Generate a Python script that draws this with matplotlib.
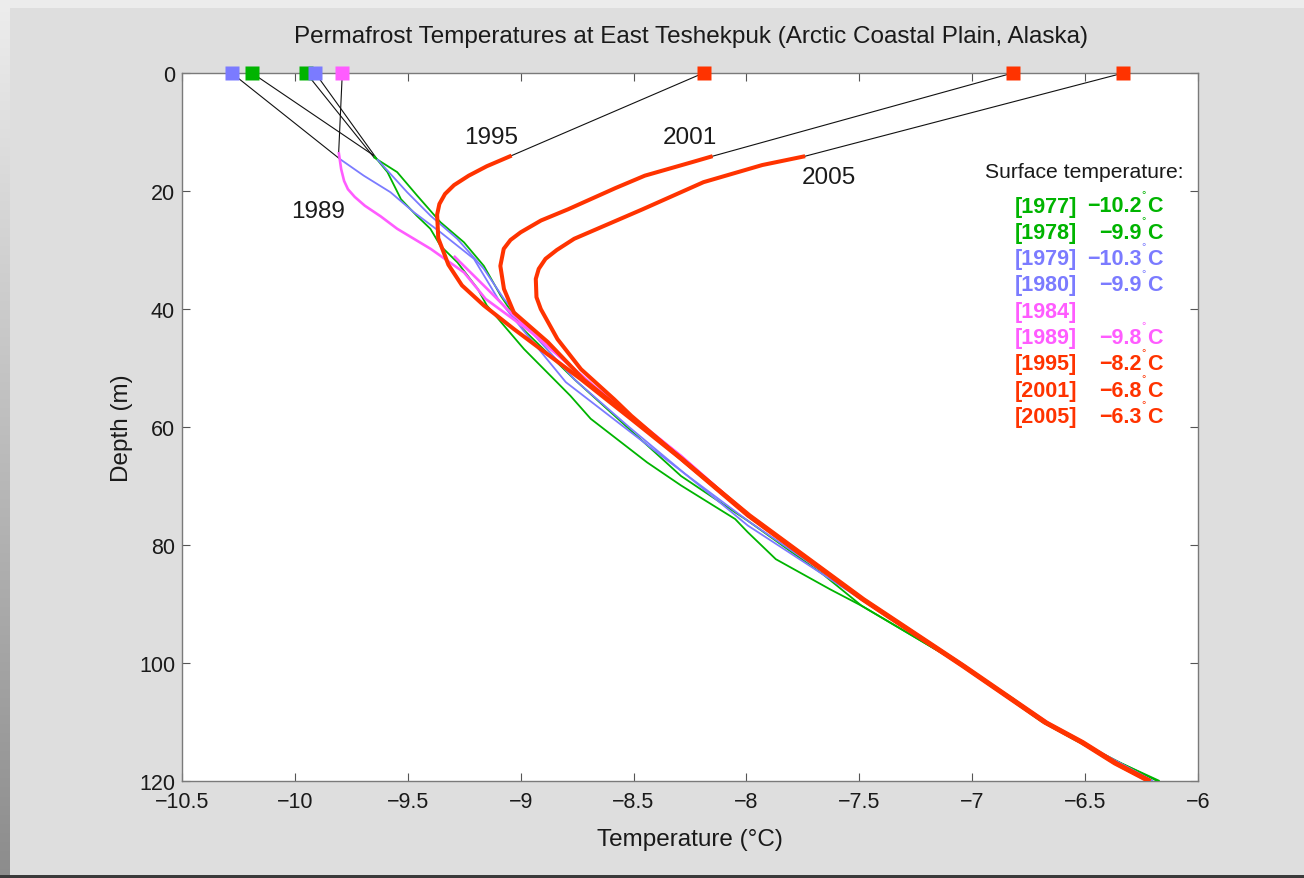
import matplotlib
matplotlib.use("Agg")
import matplotlib.pyplot as plt
import numpy as np

plt.rcParams['font.family'] = ['Liberation Sans', 'DejaVu Sans']

# ---------------- data ----------------
years = ['1977', '1978', '1979', '1980', '1984', '1989', '1995', '2001', '2005']
surface_temp = [-10.19, -9.95, -10.28, -9.91, None, -9.79, -8.19, -6.82, -6.33]
surface_label = ['\u221210.2', '\u22129.9', '\u221210.3', '\u22129.9', '', '\u22129.8',
                 '\u22128.2', '\u22126.8', '\u22126.3']

depth_1977 = [14.0, 16.8, 21.4, 24.2, 26.4, 29.3, 32.1, 36.6, 39.4, 46.8, 54.7, 58.6, 66.0,
              69.9, 75.6, 77.8, 82.4, 87.5, 90.3, 100.0, 106.0, 110.0, 114.0, 117.0, 120.0]
temp_1977 = [-9.65, -9.59, -9.53, -9.46, -9.40, -9.355, -9.28, -9.19, -9.15, -8.985, -8.78,
             -8.69, -8.44, -8.29, -8.05, -7.995, -7.87, -7.63, -7.49, -7.06, -6.82, -6.68,
             -6.49, -6.34, -6.17]

depth_1978 = [14.3, 16.8, 20.8, 25.3, 28.7, 32.7, 37.7, 43.4, 52.0, 61.0, 68.3, 76.0, 85.0,
              90.3, 100.0, 110.0, 114.0, 120.0]
temp_1978 = [-9.65, -9.547, -9.458, -9.355, -9.251, -9.163, -9.089, -8.99, -8.76, -8.50,
             -8.29, -7.99, -7.66, -7.49, -7.06, -6.69, -6.50, -6.18]

depth_1979 = [14.6, 17.4, 20.2, 23.6, 27.0, 31.5, 38.3, 44.0, 52.4, 60.9, 68.3, 76.7, 89.0,
              100.0, 110.0, 120.0]
temp_1979 = [-9.80, -9.695, -9.577, -9.473, -9.355, -9.207, -9.10, -8.98, -8.80, -8.512,
             -8.26, -7.994, -7.50, -7.05, -6.68, -6.20]

depth_1980 = [14.6, 20.2, 24.2, 28.1, 33.2, 38.3, 44.0, 52.0, 60.0, 68.0, 76.0, 89.0, 100.0,
              110.0, 120.0]
temp_1980 = [-9.636, -9.503, -9.399, -9.281, -9.163, -9.074, -8.95, -8.76, -8.52, -8.27,
             -7.99, -7.49, -7.05, -6.68, -6.20]

depth_1984 = [31.0, 33.8, 36.6, 40.0, 44.0, 53.6, 64.9, 75.0, 89.2, 100.5, 110.0, 112.0]
temp_1984 = [-9.296, -9.222, -9.148, -9.06, -8.95, -8.66, -8.29, -7.99, -7.485, -7.04,
             -6.67, -6.59]

depth_1989 = [13.4, 16.3, 18.3, 19.7, 21.0, 22.5, 24.3, 26.4, 29.8, 33.8, 38.3, 43.9, 53.6,
              64.9, 75.0, 89.2, 100.5, 110.0, 120.0]
temp_1989 = [-9.806, -9.795, -9.782, -9.765, -9.735, -9.69, -9.62, -9.547, -9.399, -9.251,
             -9.155, -8.955, -8.659, -8.29, -7.99, -7.485, -7.04, -6.675, -6.22]

depth_1995 = [14.0, 15.8, 17.4, 19.0, 20.5, 22.2, 24.0, 28.0, 32.5, 36.0, 39.4, 43.4, 51.9,
              58.6, 65.4, 75.0, 89.2, 100.5, 110.1, 113.4, 117.0, 120.0]
temp_1995 = [-9.04, -9.15, -9.23, -9.295, -9.335, -9.36, -9.37, -9.365, -9.32, -9.26,
             -9.163, -9.03, -8.733, -8.512, -8.29, -7.994, -7.488, -7.044, -6.679, -6.52,
             -6.37, -6.22]

depth_2001 = [14.1, 15.1, 17.4, 19.5, 23.1, 25.0, 27.0, 28.3, 29.8, 32.7, 36.6, 40.6, 45.6,
              52.0, 58.6, 65.4, 75.0, 89.2, 100.5, 110.1, 113.4, 117.0, 120.0]
temp_2001 = [-8.15, -8.24, -8.45, -8.58, -8.79, -8.91, -9.0, -9.045, -9.075, -9.09, -9.074,
             -9.03, -8.88, -8.72, -8.505, -8.285, -7.99, -7.485, -7.04, -6.675, -6.515,
             -6.365, -6.215]

depth_2005 = [14.1, 15.6, 18.5, 23.1, 28.1, 30.0, 31.5, 33.2, 34.9, 38.0, 40.0, 45.1, 50.2,
              55.3, 58.1, 66.0, 75.0, 89.2, 100.5, 110.1, 113.4, 117.0, 120.0]
temp_2005 = [-7.74, -7.93, -8.19, -8.46, -8.763, -8.84, -8.89, -8.92, -8.933, -8.93, -8.911,
             -8.837, -8.733, -8.586, -8.51, -8.27, -7.985, -7.48, -7.035, -6.67, -6.51,
             -6.36, -6.21]

xticks = [-10.5, -10, -9.5, -9, -8.5, -8, -7.5, -7, -6.5, -6]
xtick_labels = ['\u221210.5', '\u221210', '\u22129.5', '\u22129', '\u22128.5', '\u22128',
                '\u22127.5', '\u22127', '\u22126.5', '\u22126']
yticks = [0, 20, 40, 60, 80, 100, 120]

profiles = {
    '1977': (temp_1977, depth_1977), '1978': (temp_1978, depth_1978),
    '1979': (temp_1979, depth_1979), '1980': (temp_1980, depth_1980),
    '1984': (temp_1984, depth_1984), '1989': (temp_1989, depth_1989),
    '1995': (temp_1995, depth_1995), '2001': (temp_2001, depth_2001),
    '2005': (temp_2005, depth_2005),
}

# ---------------- styles ----------------
GREEN = '#00b400'
BLUE = '#7b7bff'
MAGENTA = '#ff5cff'
RED = '#ff3300'
style = {
    '1977': (GREEN, 1.3), '1978': (GREEN, 1.3),
    '1979': (BLUE, 1.3), '1980': (BLUE, 1.3),
    '1984': (MAGENTA, 1.9), '1989': (MAGENTA, 1.9),
    '1995': (RED, 2.9), '2001': (RED, 2.9), '2005': (RED, 2.9),
}

W, H = 1304, 879
fig = plt.figure(figsize=(W / 100, H / 100), dpi=100)
fig.patch.set_facecolor('#dedede')

# decorative frame (screenshot-like border)
bg = fig.add_axes([0, 0, 1, 1], zorder=-10)
bg.set_axis_off()
bg.set_xlim(0, W)
bg.set_ylim(H, 0)
bg.add_patch(plt.Rectangle((0, 0), W, 9, color='#ececec', lw=0))
grad = np.linspace(0.93, 0.55, 200)[:, None] * np.ones((1, 4))
bg.imshow(np.dstack([grad, grad, grad]), extent=(0, 10, H, 0), aspect='auto')
bg.add_patch(plt.Rectangle((0, 876.5), W, 3, color='#3a3a3a', lw=0))

L, R, T, B = 182, 1198, 74, 782
ax = fig.add_axes([L / W, 1 - B / H, (R - L) / W, (B - T) / H])
ax.set_facecolor('white')

order = ['1977', '1978', '1979', '1980', '1984', '1989', '1995', '2001', '2005']
for i, yr in enumerate(order):
    temps, deps = profiles[yr]
    col, lw = style[yr]
    ax.plot(temps, deps, color=col, lw=lw, solid_joinstyle='round',
            solid_capstyle='butt', zorder=3 + (2 if col == RED else 0))
    s = surface_temp[years.index(yr)]
    if s is not None:
        ax.plot([s, temps[0]], [0, deps[0]], color='#111111', lw=0.8, zorder=2)
for yr in order:
    s = surface_temp[years.index(yr)]
    if s is not None:
        ax.plot([s], [0], marker='s', ms=9.5, color=style[yr][0], mec='none',
                clip_on=False, zorder=10)

ax.set_xlim(-10.5, -6)
ax.set_ylim(120, 0)
ax.set_xticks(xticks)
ax.set_xticklabels(xtick_labels)
ax.set_yticks(yticks)
ax.tick_params(direction='in', length=6, width=0.8, color='#555555', top=True, right=True,
               labelsize=15.5, pad=5, labelcolor='#1a1a1a')
ax.tick_params(axis='x', pad=7)
for sp in ax.spines.values():
    sp.set_color('#7a7a7a')
    sp.set_linewidth(1.0)

ax.set_xlabel('Temperature (\u00b0C)', fontsize=17.5, color='#1a1a1a')
ax.xaxis.set_label_coords(0.5, -(840 - B) / (B - T))
ax.xaxis.label.set_va('center')
ax.set_ylabel('Depth (m)', fontsize=17.5, color='#1a1a1a')
ax.yaxis.set_label_coords((122 - L) / (R - L), 0.5)
ax.yaxis.label.set_va('center')

fig.text(691.5 / W, 1 - 37 / H,
         'Permafrost Temperatures at East Teshekpuk (Arctic Coastal Plain, Alaska)',
         ha='center', va='center', fontsize=17.5, color='#1a1a1a')

# year labels on curves
for txt, x, y in [('1995', -9.133, 10.85), ('2001', -8.25, 10.85),
                  ('2005', -7.633, 17.6), ('1989', -9.896, 23.4)]:
    ax.text(x, y, txt, ha='center', va='center', fontsize=17.5, color='#1a1a1a', zorder=6)

# surface temperature legend
def axpt(px, py):
    return (px - L) / (R - L), (B - py) / (B - T)

hx, hy = axpt(1084, 172)
ax.text(hx, hy, 'Surface temperature:', transform=ax.transAxes, ha='center',
        va='center', fontsize=15.2, color='#1a1a1a')
for i, yr in enumerate(years):
    col = style[yr][0]
    py = 207 + i * 26.3
    x0, y0 = axpt(1015, py)
    ax.text(x0, y0, '[' + yr + ']', transform=ax.transAxes, ha='left', va='center',
            fontsize=15.5, fontweight='bold', color=col)
    if surface_label[i]:
        x1, _ = axpt(1142, py)
        ax.text(x1, y0, surface_label[i], transform=ax.transAxes, ha='right',
                va='center', fontsize=15.5, fontweight='bold', color=col)
        x2, y2 = axpt(1144, py - 12)
        ax.text(x2, y2, '\u00b0', transform=ax.transAxes, ha='center', va='center',
                fontsize=8, color=col)
        x3, _ = axpt(1147, py)
        ax.text(x3, y0, 'C', transform=ax.transAxes, ha='left', va='center',
                fontsize=15.5, fontweight='bold', color=col)

fig.savefig('out.png', dpi=100, facecolor=fig.get_facecolor())
